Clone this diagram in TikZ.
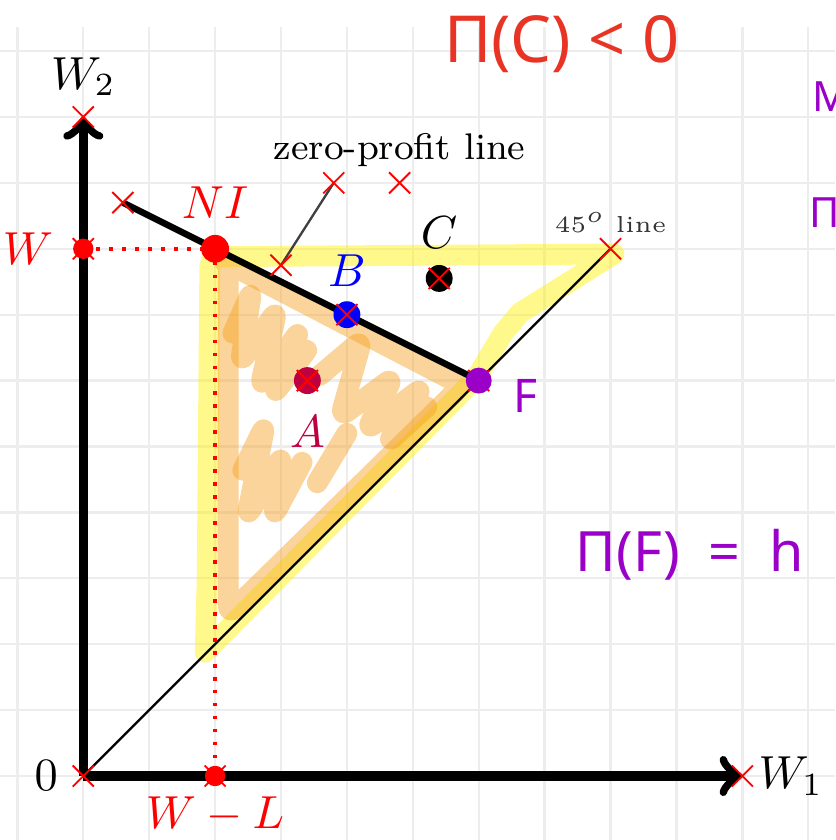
\documentclass[tikz,border=0pt]{standalone}
\usepackage{fontspec}
\newfontfamily\handfont{Noto Sans}
\definecolor{inkred}{RGB}{232,52,36}
\definecolor{inkpurple}{RGB}{155,0,200}
\definecolor{hiorange}{RGB}{245,160,30}
\begin{document}
\begin{tikzpicture}[x=0.5cm, y=0.5cm,
    axis/.style={line width=2pt, ->},
    guide/.style={red, line width=0.8pt, dotted},
    hilite/.style={yellow, opacity=0.45, line width=4.5pt, line cap=round, line join=round},
    scribble/.style={hiorange, opacity=0.45, line width=4.5pt, line cap=round, line join=round, rounded corners=2pt},
    ink/.style={inner sep=0pt, anchor=base west}]
    \def\crs{0.16}

    \useasboundingbox (-1.264,-0.971) rectangle (11.407,11.775);
    \clip (-1.264,-0.971) rectangle (11.407,11.775);

    % Grid paper
    \draw[black!7, line width=0.5pt, step=0.5cm] (-1.264,-0.971) grid (11.407,11.366);

    % Points
    \coordinate (O) at (0,0);
    \coordinate (W1end) at (10,0);
    \coordinate (W2end) at (0,10);
    \coordinate (Wpt) at (0,8);
    \coordinate (NI) at (2,8);
    \coordinate (WL) at (2,0);
    \coordinate (ZPstart) at (0.6,8.7);
    \coordinate (F) at (6,6);
    \coordinate (B) at (4,7);
    \coordinate (A) at (3.4,6);
    \coordinate (C) at (5.4,7.55);
    \coordinate (D45) at (8,8);
    \coordinate (ZPa) at (3.8,9);
    \coordinate (ZPb) at (4.8,9);
    \coordinate (ZPpin) at (3,7.75);

    % Highlighter strokes
    \draw[hilite] (1.95,7.88) -- (8.05,7.92) -- (6.63,7.03) -- (6.37,6.72) -- (5.97,6.05)
        -- (1.85,1.88) -- (1.88,3.0) -- (1.92,7.75);
    \draw[scribble] (2.15,7.8) -- (5.75,5.93) -- (2.2,2.45) -- (2.2,7.7);
    \draw[scribble] (2.27,6.72) -- (2.56,7.37) -- (2.38,6.27) -- (2.94,7.07) -- (2.68,5.90)
        -- (3.29,6.77) -- (2.88,5.78) -- (3.39,6.46);
    \draw[scribble] (3.59,6.08) -- (4.23,6.62) -- (3.90,5.45) -- (4.70,6.05) -- (4.30,5.25)
        -- (5.15,5.90) -- (4.61,5.05) -- (5.21,5.60);
    \draw[scribble] (2.42,4.64) -- (2.76,5.33) -- (2.48,3.93) -- (3.02,4.87) -- (2.88,3.93)
        -- (3.32,4.76);
    \draw[scribble] (3.55,4.45) -- (4.00,5.20);

    % Axes and lines
    \draw[axis] (O) -- (W1end);
    \draw[axis] (O) -- (W2end);
    \draw[line width=0.5pt] (O) -- (D45);
    \draw[line width=1.4pt] (ZPstart) -- (F);
    \draw[black!75, line width=0.5pt] (ZPa) -- (ZPpin);
    \draw[guide] (Wpt) -- (NI);
    \draw[guide] (NI) -- (WL);

    % Dots
    \fill[red] (NI) circle (3pt);
    \fill[red] (Wpt) circle (2.2pt);
    \fill[red] (WL) circle (2.2pt);
    \fill[blue] (B) circle (2.9pt);
    \fill[purple] (A) circle (2.9pt);
    \fill (C) circle (2.9pt);

    % Labels
    \node[above=1pt] (lW2) at (W2end) {$W_2$};
    \node[right] (lW1) at (W1end) {$W_1$};
    \node[left=2pt] (l0) at (O) {$0$};
    \node[red, left=3pt] (lW) at (Wpt) {$W$};
    \node[red, below=1pt] (lWL) at (WL) {$W-L$};
    \node[red, above=3pt] (lNI) at (NI) {$NI$};
    \node[blue, above=2.5pt] (lB) at (B) {$B$};
    \node[purple, below=4pt] (lA) at (A) {$A$};
    \node[above=3pt] (lC) at (C) {$C$};
    \node[above, font=\footnotesize] (lZP) at (ZPb) {zero-profit line};
    \node[above, font=\tiny, black!80] (l45) at (D45) {$45^o$ line};

    % Coordinate crosses
    \foreach \p in {O, W1end, W2end, Wpt, WL, ZPstart, ZPa, ZPb, ZPpin, B, A, C, D45, F}
        \draw[red, line width=0.4pt] (\p) ++(-\crs,-\crs) -- ++(2*\crs,2*\crs)
            ++(-2*\crs,0) -- ++(2*\crs,-2*\crs);

    % Handwritten notes
    \fill[inkpurple] (F) circle (2.8pt);
    \node[ink, inkpurple, font=\handfont\fontsize{10}{10}\selectfont] (nF) at (6.52,5.52) {F};
    \node[ink, inkred, font=\handfont\fontsize{14}{14}\selectfont] (nC) at (5.46,10.83) {Π(C) < 0};
    \node[ink, inkpurple, font=\handfont\fontsize{12}{12}\selectfont] (nPiF) at (7.46,3.1) {Π(F) \ = \ h};
    \node[ink, inkpurple, font=\handfont\fontsize{9}{9}\selectfont] (nM) at (11.05,10.08) {M};
    \node[ink, inkpurple, font=\handfont\fontsize{9}{9}\selectfont] (nT) at (11.0,8.32) {Π};
\end{tikzpicture}
\end{document}
